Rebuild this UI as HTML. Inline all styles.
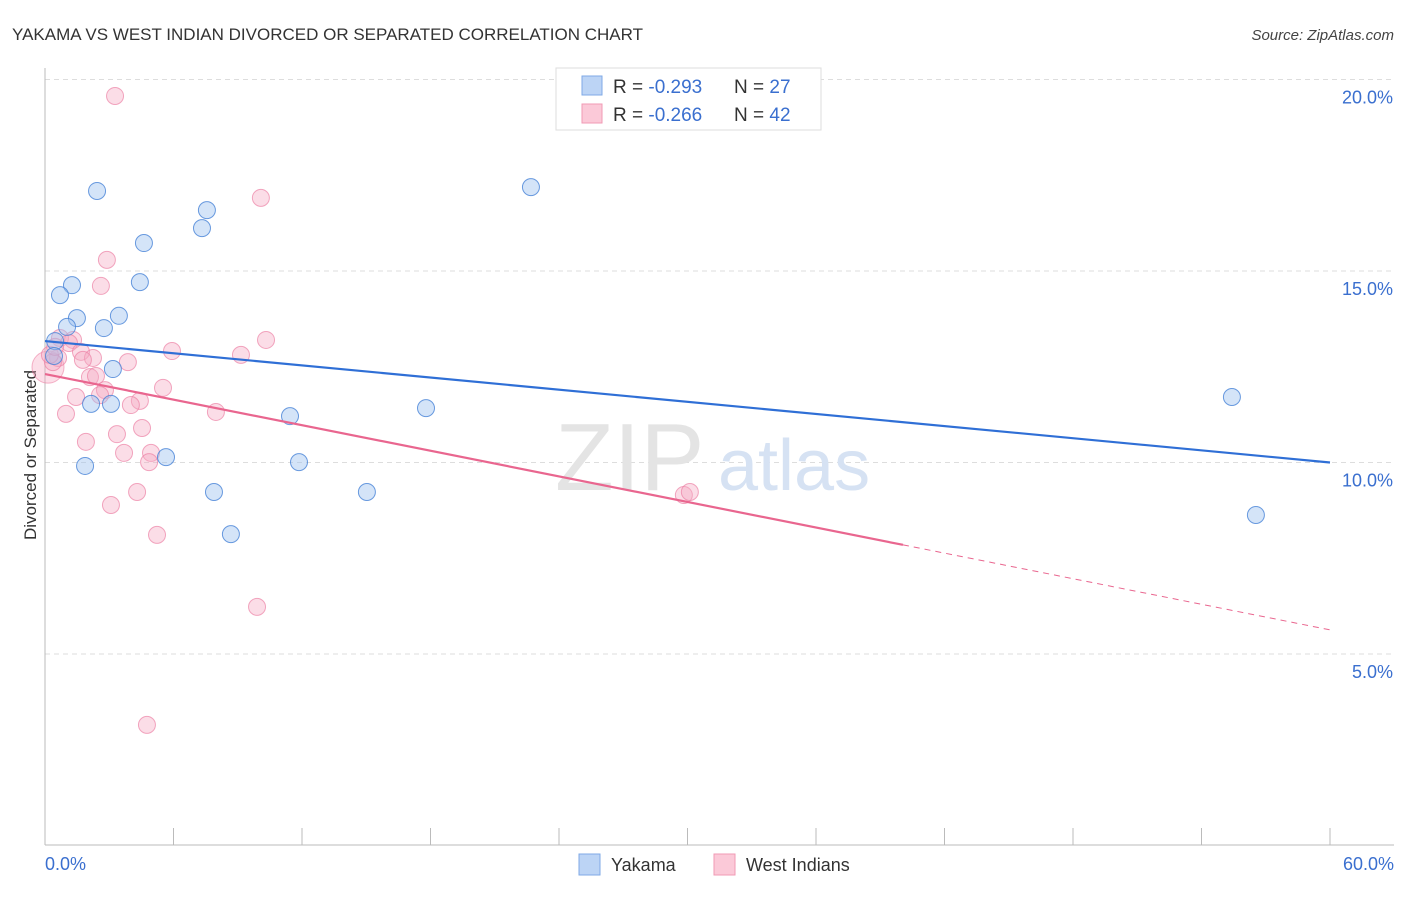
<!DOCTYPE html>
<html><head><meta charset="utf-8"><style>
body{margin:0;background:#fff;font-family:"Liberation Sans",sans-serif}
svg text{font-family:"Liberation Sans",sans-serif}
</style></head><body>
<svg id="chart" width="1406" height="892">
<text x="12" y="40" font-size="17" fill="#333">YAKAMA VS WEST INDIAN DIVORCED OR SEPARATED CORRELATION CHART</text>
<text x="1394" y="40" font-size="15" fill="#444" font-style="italic" text-anchor="end">Source: ZipAtlas.com</text>
<text x="36" y="455" font-size="17" fill="#333" transform="rotate(-90 36 455)" text-anchor="middle">Divorced or Separated</text>
<g id="grid"></g>
<g id="axes"></g>
<text x="555" y="490" font-size="96" fill="#e4e4e4" font-family="Liberation Serif">ZIP</text>
<text x="718" y="490" font-size="72" fill="#d6e2f3">atlas</text>
<g id="marks"></g>
<g>
<rect x="556" y="68" width="265" height="62" fill="#fff" stroke="#ddd"/>
<rect x="582" y="76" width="20" height="19" fill="#bcd4f5" stroke="#7fa9e6"/>
<rect x="582" y="104" width="20" height="19" fill="#fbc9d8" stroke="#f09ab4"/>
<text x="613" y="93" font-size="19" fill="#333">R = <tspan fill="#3a6fcf">-0.293</tspan><tspan x="734">N = </tspan><tspan fill="#3a6fcf">27</tspan></text>
<text x="613" y="121" font-size="19" fill="#333">R = <tspan fill="#3a6fcf">-0.266</tspan><tspan x="734">N = </tspan><tspan fill="#3a6fcf">42</tspan></text>
</g>
<g>
<rect x="579" y="854" width="21" height="21" fill="#bcd4f5" stroke="#7fa9e6"/>
<text x="611" y="871" font-size="18" fill="#333">Yakama</text>
<rect x="714" y="854" width="21" height="21" fill="#fbc9d8" stroke="#f09ab4"/>
<text x="746" y="871" font-size="18" fill="#333">West Indians</text>
</g>
</svg>
<script>
const xTicks=[0,10,20,30,40,50,60];
const yTicks=[5,10,15,20];
const yTickLabels=["5.0%","10.0%","15.0%","20.0%"];
const xEndLabels=["0.0%","60.0%"];
const yakamaX=[2.43,7.56,7.33,22.69,4.62,1.26,0.70,4.43,1.49,1.03,2.75,3.45,0.47,0.42,3.17,2.15,3.08,5.65,1.87,11.44,17.79,11.86,7.89,15.03,8.68,55.42,56.54];
const yakamaY=[17.09,16.59,16.12,17.19,15.73,14.63,14.37,14.71,13.77,13.54,13.51,13.83,13.17,12.78,12.44,11.53,11.53,10.14,9.91,11.21,11.42,10.01,9.23,9.23,8.13,11.71,8.63];
const westX=[3.27,10.08,2.89,2.61,10.32,5.93,9.15,0.70,1.31,1.12,0.61,0.37,0.14,1.68,2.24,1.77,3.87,2.10,2.38,2.80,2.57,5.51,1.45,4.43,4.01,0.98,7.98,4.53,3.36,1.91,3.69,4.95,4.86,4.30,3.08,5.23,29.83,30.11,9.90,4.76,0.23,0.47];
const westY=[19.57,16.91,15.29,14.61,13.20,12.91,12.81,13.25,13.20,13.12,12.73,12.62,12.49,12.89,12.73,12.68,12.62,12.23,12.26,11.89,11.76,11.95,11.71,11.61,11.50,11.27,11.32,10.90,10.74,10.54,10.25,10.25,10.01,9.23,8.89,8.11,9.15,9.23,6.23,3.15,12.81,13.02];
const yakamaTrend=[13.17,10.0];
const westTrend=[12.31,5.63];
const westSolidEnd=40.06;

const X=v=>45+v*(1285/60);
const Y=v=>654-(v-5)*38.3;
const NS="http://www.w3.org/2000/svg";
function mk(tag,attrs,parent){const e=document.createElementNS(NS,tag);for(const k in attrs)e.setAttribute(k,attrs[k]);parent.appendChild(e);return e;}
const grid=document.getElementById('grid'),axes=document.getElementById('axes'),marks=document.getElementById('marks');
yTicks.forEach((t,i)=>{
  const l=mk('line',{x1:45,x2:1394,y1:Y(t),y2:Y(t),stroke:'#ddd','stroke-dasharray':'5,4'},grid);
  
  
  const tx=mk('text',{x:1393,y:Y(t)+24,'font-size':18,fill:'#3a6fcf','text-anchor':'end'},axes);
  tx.textContent=yTickLabels[i];
  
  
});
const ax=mk('line',{x1:45,x2:45,y1:68,y2:845,stroke:'#bbb'},axes);


const bx=mk('line',{x1:45,x2:1394,y1:845,y2:845,stroke:'#bbb'},axes);


for(let i=0;i<=10;i++){
  const v=i*6; const tk=mk('line',{x1:X(v),x2:X(v),y1:828,y2:845,stroke:'#bbb'},axes);
  
  
}
[[0,'start',45],[60,'end',1394]].forEach((a,i)=>{
  const t=mk('text',{x:a[2],y:870,'font-size':18,fill:'#3a6fcf','text-anchor':a[1]},axes);
  t.textContent=xEndLabels[i];
  
  
});
// large pink at origin
const big=mk('circle',{cx:X(westX[12]),cy:Y(westY[12]),r:16,fill:'rgba(246,160,188,0.35)',stroke:'rgba(236,130,165,0.6)'},marks);


westX.forEach((x,i)=>{
  if(i===12)return;
  const c=mk('circle',{cx:X(x),cy:Y(westY[i]),r:8.5,fill:'rgba(246,170,195,0.4)',stroke:'rgba(236,130,165,0.7)','stroke-width':1},marks);
  
  
});
yakamaX.forEach((x,i)=>{
  const c=mk('circle',{cx:X(x),cy:Y(yakamaY[i]),r:8.5,fill:'rgba(160,195,240,0.45)',stroke:'rgba(70,130,215,0.8)','stroke-width':1},marks);
  
  
});
const bl=mk('line',{x1:X(0),y1:Y(yakamaTrend[0]),x2:X(60),y2:Y(yakamaTrend[1]),stroke:'#2f6fd6','stroke-width':2.2},marks);


const wAt=v=>westTrend[0]+(westTrend[1]-westTrend[0])*v/60;
const pl=mk('line',{x1:X(0),y1:Y(westTrend[0]),x2:X(westSolidEnd),y2:Y(wAt(westSolidEnd)),stroke:'#e9668f','stroke-width':2.2},marks);


const pd=mk('line',{x1:X(westSolidEnd),y1:Y(wAt(westSolidEnd)),x2:X(60),y2:Y(westTrend[1]),stroke:'#e9668f','stroke-width':1,'stroke-dasharray':'6,5'},marks);


</script>
</body></html>
